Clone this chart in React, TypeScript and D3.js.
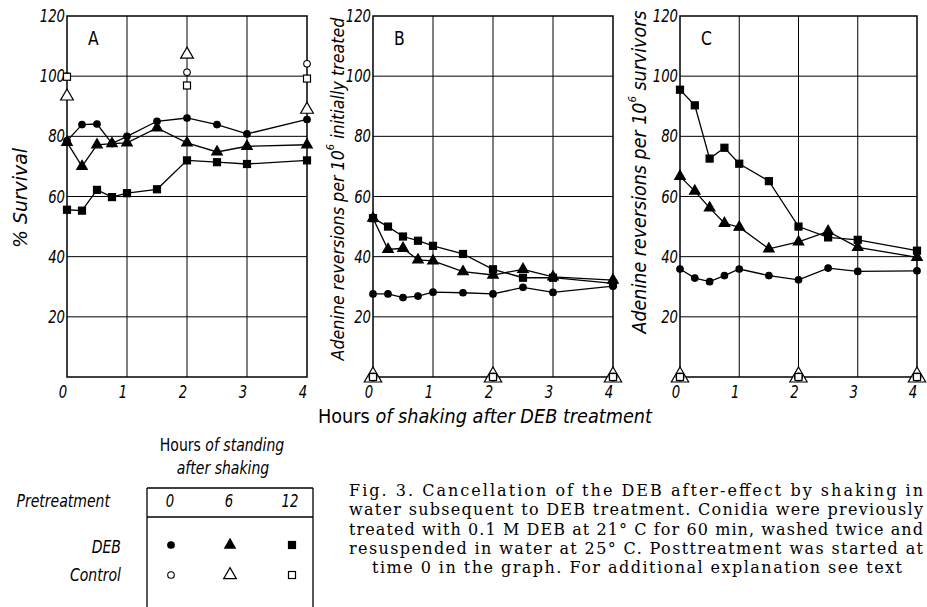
import * as d3 from 'd3'

// x positions (hours of shaking)
const hours = [0, 0.25, 0.5, 0.75, 1, 1.5, 2, 2.5, 3, 4]
const ctrlHours = [0, 2, 4]

// panel A: % survival
const survDeb0 = [78.5, 83.9, 84.1, 77.6, 80, 85, 86.1, 83.9, 80.8, 85.6]
const survDeb6 = [78, 70, 77.2, 77.6, 77.8, 82.8, 77.8, 74.8, 76.7, 77.2]
const survDeb12 = [55.6, 55.3, 62.2, 59.8, 61.1, 62.4, 72, 71.4, 70.8, 72]
const survCtrl0 = [100, 101.3, 104.1]
const survCtrl6 = [93.3, 107.2, 88.9]
const survCtrl12 = [99.8, 96.9, 99.2]

// panel B: reversions per 10^6 initially treated
const initDeb0 = [27.6, 27.6, 26.4, 26.9, 28.2, 28, 27.6, 29.8, 28.1, 30.2]
const initDeb6 = [52.8, 42.4, 42.8, 38.9, 38.6, 35, 33.9, 35.8, 33.3, 32.2]
const initDeb12 = [52.8, 50, 46.7, 45.3, 43.6, 40.9, 35.8, 33, 33, 31.1]
const initCtrl = [0, 0, 0]

// panel C: reversions per 10^6 survivors
const survivDeb0 = [35.9, 32.9, 31.7, 33.7, 35.9, 33.7, 32.3, 36.2, 35.1, 35.3]
const survivDeb6 = [66.7, 61.8, 56.2, 51.1, 49.8, 42.6, 44.9, 48.4, 43.1, 39.8]
const survivDeb12 = [95.5, 90.3, 72.6, 76.2, 70.9, 65.1, 50, 46.4, 45.6, 42]
const survivCtrl = [0, 0, 0]

const xTicks = [0, 1, 2, 3, 4]
const yTicks = [20, 40, 60, 80, 100, 120]

const legendHours = ['0', '6', '12']

const caption = [
  'Fig. 3.  Cancellation of the DEB after-effect by shaking in',
  'water subsequent to DEB treatment. Conidia were previously',
  'treated with 0.1 M DEB at 21\u00b0 C for 60 min, washed twice and',
  'resuspended in water at 25\u00b0 C. Posttreatment was started at',
  'time 0 in the graph. For additional explanation see text'
]

const techFont = "'DejaVu Sans', sans-serif"

// narrow lettering: squeeze horizontally around the anchor point
function NText(props) {
  const { x, y, sx = 0.78, children, ...rest } = props
  return (
    <text transform={`translate(${x},${y}) scale(${sx},1)`} fontFamily={techFont} {...rest}>
      {children}
    </text>
  )
}

function Marker(props) {
  const { kind, filled, x, y, big } = props
  const fill = filled ? '#000' : '#fff'
  if (kind === 'circle') {
    return <circle cx={x} cy={y} r={big ? 4 : 3.3} fill={fill} stroke="#000" strokeWidth={1.1} />
  }
  if (kind === 'triangle') {
    const s = big ? 130 : (filled ? 48 : 70)
    return <path transform={`translate(${x},${y})`} d={d3.symbol(d3.symbolTriangle, s)()}
      fill={fill} stroke="#000" strokeWidth={1.2} />
  }
  const s = 7
  return <rect x={x - s / 2} y={y - s / 2} width={s} height={s} fill={fill} stroke="#000" strokeWidth={1.2} />
}

function Panel(props) {
  const { left, right, top, bottom, letter, deb, ctrl, bigCtrl } = props
  const x = d3.scaleLinear().domain([0, 4]).range([left, right])
  const y = d3.scaleLinear().domain([0, 120]).range([bottom, top])
  const line = d3.line<number>()
    .x((d, i) => x(hours[i]))
    .y(d => y(d))
  const kinds = ['circle', 'triangle', 'square']

  return (
    <g>
      {yTicks.slice(0, 5).map(t => (
        <line key={'h' + t} x1={left} x2={right} y1={y(t)} y2={y(t)} stroke="#000" strokeWidth={1} />
      ))}
      {[1, 2, 3].map(t => (
        <line key={'v' + t} x1={x(t)} x2={x(t)} y1={top} y2={bottom} stroke="#000" strokeWidth={1} />
      ))}
      <rect x={left} y={top} width={right - left} height={bottom - top} fill="none" stroke="#000" strokeWidth={1.5} />

      {yTicks.map(t => (
        <NText key={'yl' + t} x={left - 2} y={y(t) + 6} textAnchor="end"
          fontStyle="italic" fontSize={17}>{t}</NText>
      ))}
      {xTicks.map(t => (
        <NText key={'xl' + t} x={x(t) - 4} y={bottom + 21} textAnchor="middle"
          fontStyle="italic" fontSize={17}>{t}</NText>
      ))}

      <NText x={left + 21} y={top + 29} fontSize={20}>{letter}</NText>

      {deb.map((vals, k) => (
        <g key={'s' + k}>
          <path d={line(vals)} fill="none" stroke="#000" strokeWidth={1.3} />
          {vals.map((v, i) => (
            <Marker key={i} kind={kinds[k]} filled={true} x={x(hours[i])} y={y(v)} />
          ))}
        </g>
      ))}

      {ctrl.map((vals, k) => vals.map((v, i) => (
        <Marker key={'c' + k + '-' + i} kind={bigCtrl ? ['triangle', 'circle', 'square'][k] : kinds[k]}
          filled={false} big={bigCtrl} x={x(ctrlHours[i])} y={y(v)} />
      )))}
    </g>
  )
}

export default function App() {
  return (
    <svg width={927} height={607} style={{ position: 'absolute', left: 0, top: 0, background: '#fff' }}>
      <rect width={927} height={607} fill="#fff" />

      <Panel left={67} right={307} top={16} bottom={377} letter="A"
        deb={[survDeb0, survDeb6, survDeb12]}
        ctrl={[survCtrl0, survCtrl6, survCtrl12]} />
      <Panel left={373} right={613} top={16} bottom={377} letter="B"
        deb={[initDeb0, initDeb6, initDeb12]}
        ctrl={[initCtrl, initCtrl, initCtrl]} bigCtrl={true} />
      <Panel left={680} right={917} top={16} bottom={377} letter="C"
        deb={[survivDeb0, survivDeb6, survivDeb12]}
        ctrl={[survivCtrl, survivCtrl, survivCtrl]} bigCtrl={true} />

      {/* y axis titles */}
      <text transform="translate(20,198) rotate(-90)" textAnchor="middle" dominantBaseline="central"
        fontFamily={techFont} fontStyle="italic" fontSize={20} textLength={100} lengthAdjust="spacingAndGlyphs">
        % Survival
      </text>
      <text transform="translate(337,189) rotate(-90)" textAnchor="middle" dominantBaseline="central"
        fontFamily={techFont} fontStyle="italic" fontSize={18} textLength={343} lengthAdjust="spacingAndGlyphs">
        Adenine reversions per 10<tspan baselineShift="super" fontSize={11}>6</tspan> initially treated
      </text>
      <text transform="translate(639,172) rotate(-90)" textAnchor="middle" dominantBaseline="central"
        fontFamily={techFont} fontStyle="italic" fontSize={19} textLength={323} lengthAdjust="spacingAndGlyphs">
        Adenine reversions per 10<tspan baselineShift="super" fontSize={11}>6</tspan> survivors
      </text>

      {/* x axis title */}
      <text x={318} y={423} fontFamily={techFont} fontSize={19} textLength={334} lengthAdjust="spacingAndGlyphs">
        Hours <tspan fontStyle="italic">of shaking after DEB treatment</tspan>
      </text>

      {/* legend table */}
      <NText x={222} y={451} textAnchor="middle" fontSize={18}>
        Hours <tspan fontStyle="italic">of standing</tspan>
      </NText>
      <NText x={223} y={474} textAnchor="middle" fontStyle="italic" fontSize={18}>
        after shaking
      </NText>
      <line x1={147} x2={313} y1={488} y2={488} stroke="#000" strokeWidth={1.3} />
      <line x1={147} x2={313} y1={517} y2={517} stroke="#000" strokeWidth={1.3} />
      <line x1={147} x2={147} y1={488} y2={607} stroke="#000" strokeWidth={1.3} />
      <line x1={313} x2={313} y1={488} y2={607} stroke="#000" strokeWidth={1.3} />
      {legendHours.map((h, i) => (
        <NText key={h} x={[170, 229, 290][i]} y={507} textAnchor="middle"
          fontStyle="italic" fontSize={17}>{h}</NText>
      ))}
      <NText x={110} y={507} textAnchor="end" fontStyle="italic" fontSize={18}>Pretreatment</NText>
      <NText x={121} y={553} textAnchor="end" fontStyle="italic" fontSize={18}>DEB</NText>
      <NText x={121} y={581} textAnchor="end" fontStyle="italic" fontSize={18}>Control</NText>
      {['circle', 'triangle', 'square'].map((k, i) => (
        <g key={k}>
          <Marker kind={k} filled={true} x={[171, 230, 292][i]} y={545} />
          <Marker kind={k} filled={false} x={[171, 230, 292][i]} y={575} />
        </g>
      ))}

      {/* caption */}
      {caption.map((l, i) => (
        <text key={i} x={i < 4 ? 349 : 637} y={496 + i * 19.3} textAnchor={i < 4 ? 'start' : 'middle'}
          fontFamily="'DejaVu Serif', 'Liberation Serif', serif" fontSize={16}
          textLength={i < 4 ? 574 : 530} lengthAdjust="spacing">{l}</text>
      ))}
    </svg>
  )
}
